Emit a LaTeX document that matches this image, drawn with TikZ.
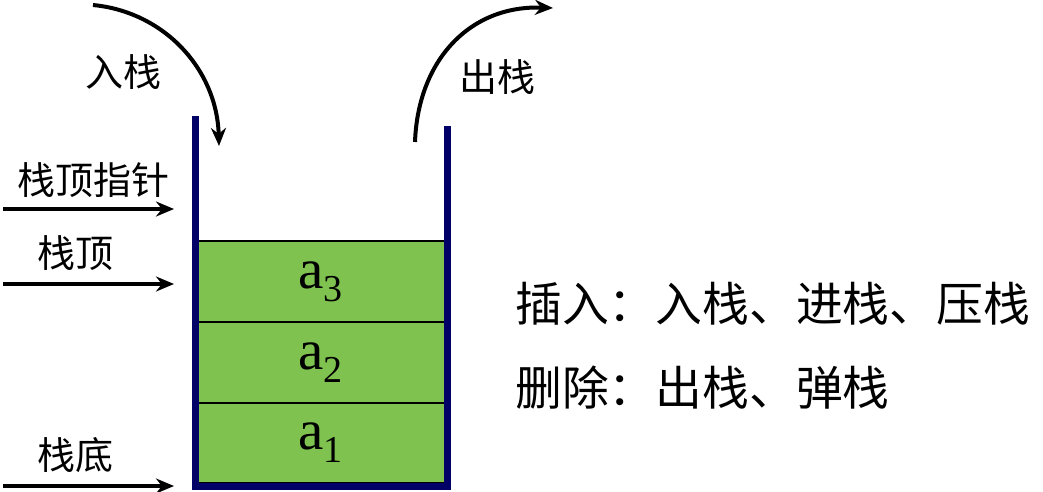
\documentclass[tikz,border=0pt]{standalone}
\usepackage{fontspec}
\setmainfont{Liberation Serif}
\newfontfamily\cjk{Noto Sans CJK SC}
\usetikzlibrary{arrows.meta}
\definecolor{wallblue}{RGB}{0,0,102}
\definecolor{cellgreen}{RGB}{127,194,80}
\begin{document}
\begin{tikzpicture}[x=1pt,y=-1pt,
  cell/.style={draw=black,line width=1.5pt,fill=cellgreen,minimum width=249pt,minimum height=81pt,inner sep=0pt,font=\fontsize{57}{57}\selectfont},
  lbl/.style={font=\cjk\fontsize{38}{38}\selectfont,inner sep=0pt},
  big/.style={font=\cjk\fontsize{46.8}{46.8}\selectfont,inner sep=0pt,anchor=west},
  arr/.style={line width=4pt,-{Stealth[length=18pt,width=15pt]}},
  wall/.style={line width=7pt,draw=wallblue,line join=miter}]
\useasboundingbox (0,0) rectangle (1043,492);
% stack cells
\node[cell] (c3) at (320.5,281.5) {a\raisebox{-13pt}{\fontsize{38}{38}\selectfont 3}};
\node[cell] (c2) at (320.5,362.5) {a\raisebox{-13pt}{\fontsize{38}{38}\selectfont 2}};
\node[cell,minimum height=80pt] (c1) at (320.5,443) {a\raisebox{-13pt}{\fontsize{38}{38}\selectfont 1}};
% walls
\draw[wall] (195.5,116) -- (195.5,486) -- (447.5,486) -- (447.5,126);
% left labels and pointers
\node[lbl] (ltp) at (93,180) {栈顶指针};
\node[lbl] (ltop) at (75,253) {栈顶};
\node[lbl] (lbot) at (75,455) {栈底};
\coordinate (tpa) at (3,209); \coordinate (tpb) at (174,209);
\coordinate (ta) at (3,284); \coordinate (tb) at (174,284);
\coordinate (ba) at (3,486); \coordinate (bb) at (174,486);
\draw[arr] (tpa) -- (tpb);
\draw[arr] (ta) -- (tb);
\draw[arr] (ba) -- (bb);
% push / pop
\node[lbl] (lin) at (123,72) {入栈};
\node[lbl] (lout) at (497,77) {出栈};
\coordinate (ina) at (93,5); \coordinate (inb) at (219,146);
\coordinate (outa) at (415,142); \coordinate (outb) at (553,8);
\draw[arr] (ina) .. controls (165,12) and (217,70) .. (inb);
\draw[arr] (outa) .. controls (418,60) and (470,5) .. (outb);
% right text
\node[big] (ins) at (515,304) {插入：入栈、进栈、压栈};
\node[big] (del) at (515,388) {删除：出栈、弹栈};
\end{tikzpicture}
\end{document}
